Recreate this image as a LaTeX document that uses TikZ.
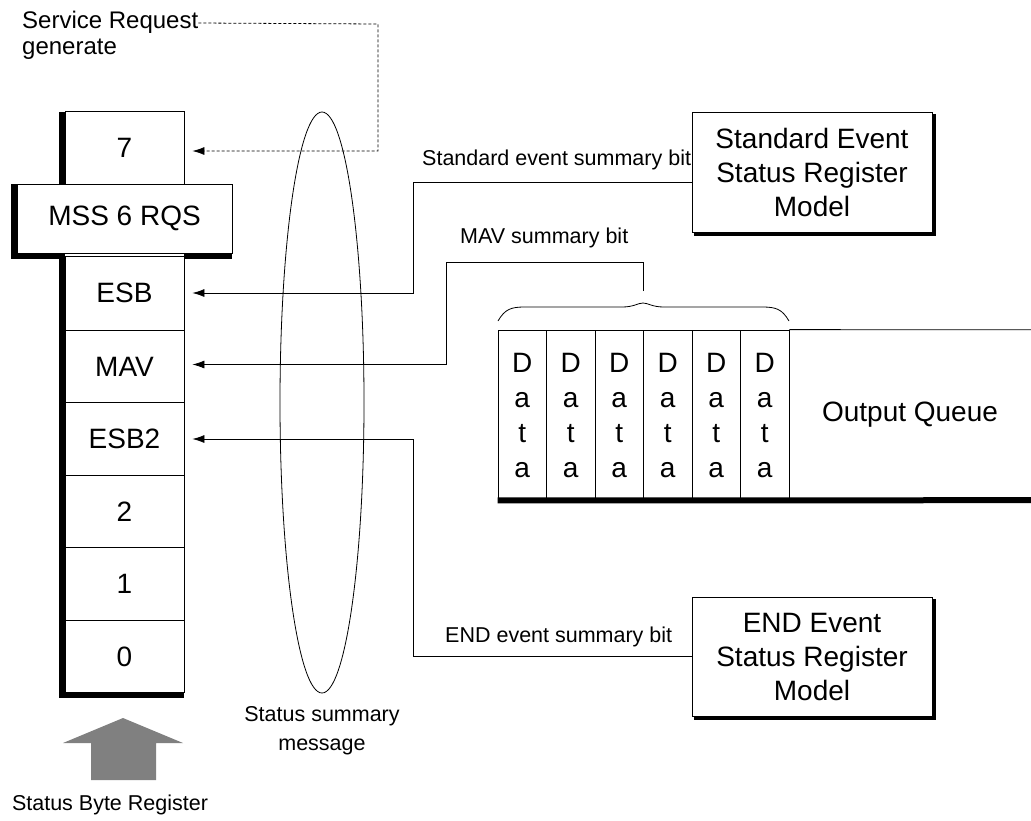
\documentclass[tikz,border=0pt]{standalone}
\usepackage{fontspec}
\setmainfont{Liberation Sans}
\usetikzlibrary{arrows.meta,shapes.geometric}
\definecolor{sbrgray}{RGB}{128,128,128}

\begin{document}
\begin{tikzpicture}[x=1pt,y=-1pt,
  cell/.style={draw,fill=white,line width=0.8pt,minimum width=119pt,minimum height=72.5pt,inner sep=0pt,font=\fontsize{28}{34}\selectfont},
  datacell/.style={draw,line width=0.8pt,minimum width=48.5pt,minimum height=170pt,inner sep=0pt,align=center,font=\fontsize{28}{35}\selectfont},
  modelbox/.style={draw,fill=white,line width=0.8pt,minimum width=240pt,minimum height=120pt,inner sep=0pt,align=center,font=\fontsize{28}{34}\selectfont},
  lbl/.style={inner sep=0pt,font=\fontsize{21.5}{28}\selectfont},
  thick edge/.style={line width=6pt},
  link/.style={line width=0.8pt,-{Latex[length=12pt,width=8pt]}}]
\useasboundingbox (0,0) rectangle (1031,820);
% \draw [help lines,step=50] (0,0) grid (1031,820);

%% labels
\node[lbl,font=\fontsize{24}{26}\selectfont,anchor=north west,align=left] (srq) at (22,11) {Service Request\\generate};
\node[lbl,anchor=base west] (seslbl) at (422,165) {Standard event summary bit};
\node[lbl,anchor=base west] (mavlbl) at (460,243) {MAV summary bit};
\node[lbl,anchor=base west] (eeslbl) at (445,642) {END event summary bit};
\node[lbl,anchor=north,align=center,font=\fontsize{21.5}{29}\selectfont] (ssmlbl) at (322,706) {Status summary\\message};
\node[lbl,anchor=base] (sbrlbl) at (110,810) {Status Byte Register};

%% status byte register
\draw[thick edge] (62,112) -- (62,184);
\draw[thick edge] (14,184) -- (14,258);
\draw[thick edge] (11,255.5) -- (65,255.5);
\draw[thick edge] (184,255.5) -- (232,255.5);
\draw[thick edge] (62,253) -- (62,695) -- (184,695);
\node[cell] (b7) at (124.5,148) {7};
\node[cell,minimum width=215pt,minimum height=69pt] (mss) at (124.5,218.5) {MSS 6 RQS};
\node[cell,minimum height=74pt] (esb) at (124.5,293) {ESB};
\node[cell] (mav) at (124.5,366.5) {MAV};
\node[cell] (esbtwo) at (124.5,439) {ESB2};
\node[cell] (b2) at (124.5,511.5) {2};
\node[cell] (b1) at (124.5,584) {1};
\node[cell] (b0) at (124.5,656.5) {0};
\fill[sbrgray] (91,780) -- (91,743) -- (63,743) -- (123,718) -- (183,743) -- (156,743) -- (156,780) -- cycle;

%% status summary message
\node[draw,ellipse,line width=0.8pt,minimum width=84pt,minimum height=581pt] (ssm) at (322,402.5) {};

%% event status register models
\draw[line width=4pt] (934,114) -- (934,233.5) -- (694,233.5);
\node[modelbox] (ses) at (812,172) {Standard Event\\Status Register\\Model};
\draw[line width=4pt] (934,599) -- (934,717.5) -- (694,717.5);
\node[modelbox,minimum height=119pt] (ees) at (812,656.5) { END Event\\Status Register\\Model};

%% output queue
\node[datacell] (dq1) at (522.25,415) {D\\a\\t\\a};
\node[datacell] (dq2) at (570.75,415) {D\\a\\t\\a};
\node[datacell] (dq3) at (619.25,415) {D\\a\\t\\a};
\node[datacell] (dq4) at (667.75,415) {D\\a\\t\\a};
\node[datacell] (dq5) at (716.25,415) {D\\a\\t\\a};
\node[datacell] (dq6) at (764.75,415) {D\\a\\t\\a};
\node[minimum width=242pt,minimum height=170pt,inner sep=0pt,font=\fontsize{28}{34}\selectfont] (oq) at (910,415) {Output Queue};
\draw[line width=0.8pt] (dq6.north east) -- (oq.north east);
\draw[line width=6pt] (dq1.south west) -- (oq.south east);
\coordinate (btip) at (643,303);
\coordinate (qtop) at (643,291);
\draw[line width=0.8pt] (498,321) .. controls (505,309) and (511,307) .. (525,307) -- (622,307)
  .. controls (634,307) and (638,303) .. (btip) .. controls (648,303) and (652,307) .. (664,307)
  -- (762,307) .. controls (776,307) and (782,309) .. (789,321);

%% connectors
\draw[link,dash pattern=on 3pt off 2pt] ([yshift=-12pt]srq.north east) -- (378,24) |- ([xshift=8pt,yshift=-3pt]b7.east);
\draw[link] ([yshift=-10pt]ses.west) -- (413,182) |- ([xshift=8pt]esb.east);
\draw[link] (qtop) |- (446,262) |- ([xshift=8pt,yshift=2pt]mav.east);
\draw[link] (ees.west) -- (413,656.5) |- ([xshift=8pt]esbtwo.east);

\end{tikzpicture}
\end{document}
